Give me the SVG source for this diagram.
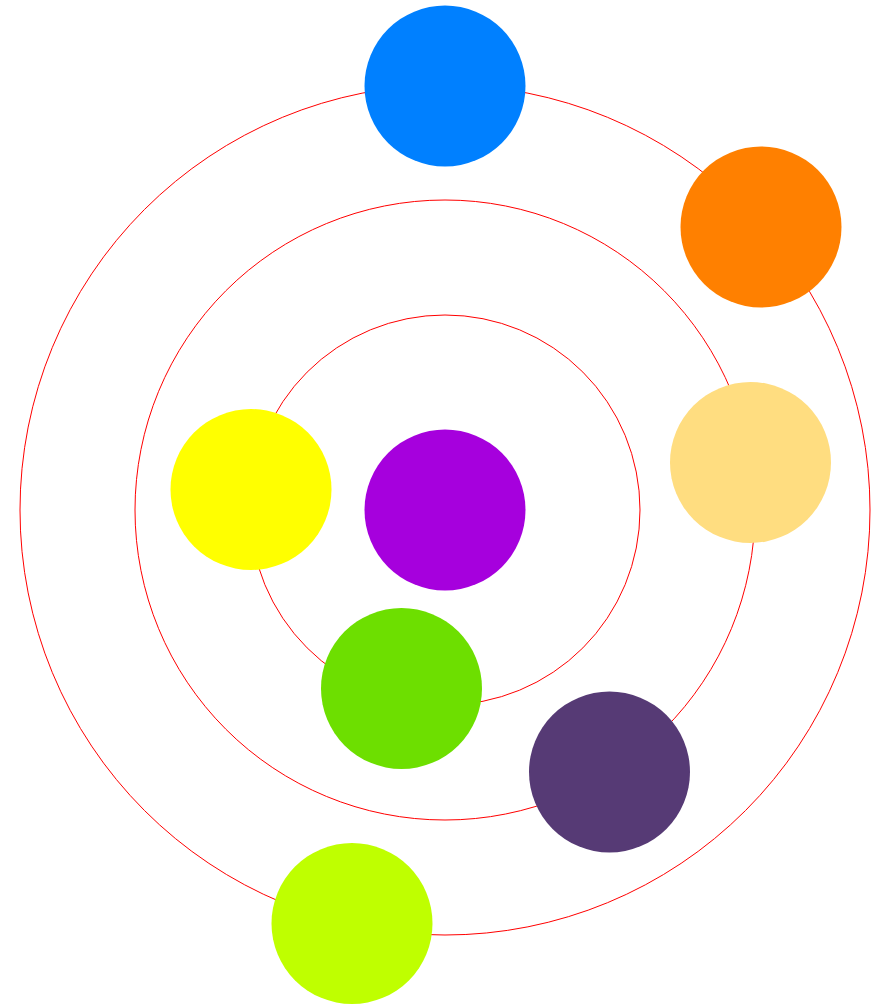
<svg xmlns="http://www.w3.org/2000/svg" width="886" height="1006" viewBox="0 0 886 1006">
<style>
.orbit{fill:none;stroke:#ff0000;stroke-width:1}
.node{stroke:none}
</style>
<rect width="886" height="1006" fill="#ffffff"/>
<g id="connectors">
<circle class="orbit" cx="445" cy="510" r="195"/>
<circle class="orbit" cx="445" cy="510" r="310"/>
<circle class="orbit" cx="445" cy="510" r="425"/>
</g>
<g id="node-blue"><circle class="node" cx="445" cy="86" r="80.5" fill="#0080ff"/></g>
<g id="node-orange"><circle class="node" cx="761" cy="227" r="80.5" fill="#ff8000"/></g>
<g id="node-lightyellow"><circle class="node" cx="750.5" cy="462.5" r="80.5" fill="#ffdd80"/></g>
<g id="node-yellow"><circle class="node" cx="251" cy="489.5" r="80.5" fill="#ffff00"/></g>
<g id="node-purple"><circle class="node" cx="445" cy="510" r="80.5" fill="#a600dd"/></g>
<g id="node-green"><circle class="node" cx="401.5" cy="688.5" r="80.5" fill="#6ddf00"/></g>
<g id="node-darkpurple"><circle class="node" cx="609.5" cy="772" r="80.5" fill="#563a75"/></g>
<g id="node-lime"><circle class="node" cx="352" cy="923.5" r="80.5" fill="#bfff00"/></g>
</svg>
